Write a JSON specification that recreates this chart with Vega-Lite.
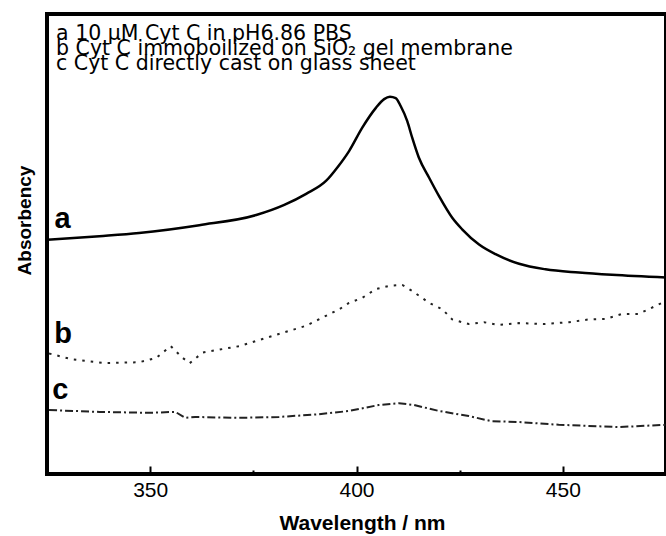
{
  "$schema": "https://vega.github.io/schema/vega-lite/v6.json",
  "width": 619,
  "height": 460,
  "autosize": {"type": "none"},
  "padding": {"left": 47, "top": 14, "right": 0, "bottom": 62},
  "background": "white",
  "config": {
    "view": {"stroke": "black", "strokeWidth": 4},
    "font": "Liberation Sans"
  },
  "datasets": {
    "spectra": [
      {"series": "a", "wl": 325.0, "abs": 0.509},
      {"series": "a", "wl": 337.7, "abs": 0.517},
      {"series": "a", "wl": 347.3, "abs": 0.524},
      {"series": "a", "wl": 361.9, "abs": 0.541},
      {"series": "a", "wl": 375.7, "abs": 0.563},
      {"series": "a", "wl": 382.5, "abs": 0.585},
      {"series": "a", "wl": 387.8, "abs": 0.609},
      {"series": "a", "wl": 392.6, "abs": 0.637},
      {"series": "a", "wl": 395.5, "abs": 0.668},
      {"series": "a", "wl": 398.2, "abs": 0.702},
      {"series": "a", "wl": 401.4, "abs": 0.753},
      {"series": "a", "wl": 404.7, "abs": 0.796},
      {"series": "a", "wl": 406.7, "abs": 0.815},
      {"series": "a", "wl": 408.1, "abs": 0.820},
      {"series": "a", "wl": 409.5, "abs": 0.817},
      {"series": "a", "wl": 410.7, "abs": 0.800},
      {"series": "a", "wl": 412.3, "abs": 0.767},
      {"series": "a", "wl": 413.5, "abs": 0.731},
      {"series": "a", "wl": 415.1, "abs": 0.688},
      {"series": "a", "wl": 417.6, "abs": 0.644},
      {"series": "a", "wl": 420.0, "abs": 0.604},
      {"series": "a", "wl": 423.2, "abs": 0.557},
      {"series": "a", "wl": 425.6, "abs": 0.532},
      {"series": "a", "wl": 429.7, "abs": 0.499},
      {"series": "a", "wl": 433.7, "abs": 0.478},
      {"series": "a", "wl": 439.4, "abs": 0.457},
      {"series": "a", "wl": 445.8, "abs": 0.445},
      {"series": "a", "wl": 453.9, "abs": 0.438},
      {"series": "a", "wl": 461.9, "abs": 0.433},
      {"series": "a", "wl": 475.0, "abs": 0.427},

      {"series": "b", "wl": 325.5, "abs": 0.262},
      {"series": "b", "wl": 331.2, "abs": 0.249},
      {"series": "b", "wl": 339.3, "abs": 0.241},
      {"series": "b", "wl": 347.3, "abs": 0.243},
      {"series": "b", "wl": 351.4, "abs": 0.252},
      {"series": "b", "wl": 355.0, "abs": 0.278},
      {"series": "b", "wl": 357.8, "abs": 0.253},
      {"series": "b", "wl": 359.6, "abs": 0.241},
      {"series": "b", "wl": 362.7, "abs": 0.264},
      {"series": "b", "wl": 371.6, "abs": 0.278},
      {"series": "b", "wl": 379.6, "abs": 0.300},
      {"series": "b", "wl": 387.7, "abs": 0.322},
      {"series": "b", "wl": 395.8, "abs": 0.358},
      {"series": "b", "wl": 398.2, "abs": 0.372},
      {"series": "b", "wl": 401.4, "abs": 0.383},
      {"series": "b", "wl": 404.7, "abs": 0.402},
      {"series": "b", "wl": 407.9, "abs": 0.409},
      {"series": "b", "wl": 411.1, "abs": 0.411},
      {"series": "b", "wl": 413.5, "abs": 0.398},
      {"series": "b", "wl": 417.6, "abs": 0.372},
      {"series": "b", "wl": 420.8, "abs": 0.358},
      {"series": "b", "wl": 423.2, "abs": 0.336},
      {"series": "b", "wl": 427.2, "abs": 0.326},
      {"series": "b", "wl": 430.9, "abs": 0.330},
      {"series": "b", "wl": 434.5, "abs": 0.324},
      {"series": "b", "wl": 439.4, "abs": 0.328},
      {"series": "b", "wl": 445.4, "abs": 0.326},
      {"series": "b", "wl": 451.5, "abs": 0.330},
      {"series": "b", "wl": 456.3, "abs": 0.336},
      {"series": "b", "wl": 460.4, "abs": 0.337},
      {"series": "b", "wl": 464.3, "abs": 0.348},
      {"series": "b", "wl": 468.4, "abs": 0.348},
      {"series": "b", "wl": 474.0, "abs": 0.372},
      {"series": "b", "wl": 475.0, "abs": 0.376},

      {"series": "c", "wl": 325.5, "abs": 0.139},
      {"series": "c", "wl": 337.7, "abs": 0.135},
      {"series": "c", "wl": 349.8, "abs": 0.133},
      {"series": "c", "wl": 356.1, "abs": 0.135},
      {"series": "c", "wl": 358.5, "abs": 0.122},
      {"series": "c", "wl": 360.9, "abs": 0.124},
      {"series": "c", "wl": 371.5, "abs": 0.122},
      {"series": "c", "wl": 381.2, "abs": 0.124},
      {"series": "c", "wl": 390.9, "abs": 0.130},
      {"series": "c", "wl": 398.2, "abs": 0.137},
      {"series": "c", "wl": 405.4, "abs": 0.150},
      {"series": "c", "wl": 410.3, "abs": 0.154},
      {"series": "c", "wl": 413.9, "abs": 0.150},
      {"series": "c", "wl": 420.0, "abs": 0.137},
      {"series": "c", "wl": 427.2, "abs": 0.126},
      {"series": "c", "wl": 432.6, "abs": 0.115},
      {"series": "c", "wl": 439.3, "abs": 0.113},
      {"series": "c", "wl": 449.0, "abs": 0.107},
      {"series": "c", "wl": 463.6, "abs": 0.102},
      {"series": "c", "wl": 475.0, "abs": 0.107}
    ],
    "curveLabels": [
      {"label": "a", "wl": 328.8, "abs": 0.535},
      {"label": "b", "wl": 328.9, "abs": 0.285},
      {"label": "c", "wl": 328.2, "abs": 0.163}
    ],
    "legendLines": [
      {"text": "a 10 μM Cyt C in pH6.86 PBS", "wl": 327.2, "abs": 0.943},
      {"text": "b Cyt C immoboilized on SiO₂ gel membrane", "wl": 327.2, "abs": 0.911},
      {"text": "c Cyt C directly cast on glass sheet", "wl": 327.2, "abs": 0.879}
    ]
  },
  "layer": [
    {
      "data": {"name": "spectra"},
      "transform": [{"filter": "datum.series === 'a'"}],
      "mark": {"type": "line", "color": "black", "strokeWidth": 2.5, "interpolate": "monotone", "clip": true},
      "encoding": {
        "x": {
          "field": "wl",
          "type": "quantitative",
          "scale": {"domain": [325, 475], "nice": false, "zero": false},
          "axis": {
            "values": [350, 375, 400, 425, 450],
            "labelExpr": "datum.value % 50 === 0 ? datum.label : ''",
            "tickSize": {"condition": {"test": "datum.value % 50 === 0", "value": -8}, "value": -4},
            "tickWidth": 2,
            "tickColor": "black",
            "domain": false,
            "grid": false,
            "labelFontSize": 21,
            "labelColor": "black",
            "labelPadding": 13,
            "title": "Wavelength / nm",
            "titleFontSize": 21,
            "titleFontWeight": "bold",
            "titleColor": "black",
            "titlePadding": 12,
            "titleX": 315
          }
        },
        "y": {
          "field": "abs",
          "type": "quantitative",
          "scale": {"domain": [0, 1], "nice": false, "zero": false},
          "axis": {
            "ticks": false,
            "labels": false,
            "domain": false,
            "grid": false,
            "title": "Absorbency",
            "titleFontSize": 19,
            "titleFontWeight": "bold",
            "titleColor": "black",
            "titleAngle": 270,
            "titleAlign": "center",
            "titleBaseline": "middle",
            "titleX": -23,
            "titleY": 206
          }
        }
      }
    },
    {
      "data": {"name": "spectra"},
      "transform": [{"filter": "datum.series === 'b'"}],
      "mark": {"type": "line", "color": "#222", "strokeWidth": 2, "strokeDash": [2.5, 6], "clip": true},
      "encoding": {
        "x": {"field": "wl", "type": "quantitative"},
        "y": {"field": "abs", "type": "quantitative"}
      }
    },
    {
      "data": {"name": "spectra"},
      "transform": [{"filter": "datum.series === 'c'"}],
      "mark": {"type": "line", "color": "#222", "strokeWidth": 2, "strokeDash": [8, 3, 2, 3], "clip": true},
      "encoding": {
        "x": {"field": "wl", "type": "quantitative"},
        "y": {"field": "abs", "type": "quantitative"}
      }
    },
    {
      "data": {"name": "curveLabels"},
      "mark": {"type": "text", "fontSize": 29, "fontWeight": "bold", "color": "black", "align": "center", "baseline": "alphabetic"},
      "encoding": {
        "x": {"field": "wl", "type": "quantitative"},
        "y": {"field": "abs", "type": "quantitative"},
        "text": {"field": "label"}
      }
    },
    {
      "data": {"name": "legendLines"},
      "mark": {"type": "text", "font": "DejaVu Sans", "fontSize": 20.5, "color": "black", "align": "left", "baseline": "alphabetic"},
      "encoding": {
        "x": {"field": "wl", "type": "quantitative"},
        "y": {"field": "abs", "type": "quantitative"},
        "text": {"field": "text"}
      }
    }
  ]
}
